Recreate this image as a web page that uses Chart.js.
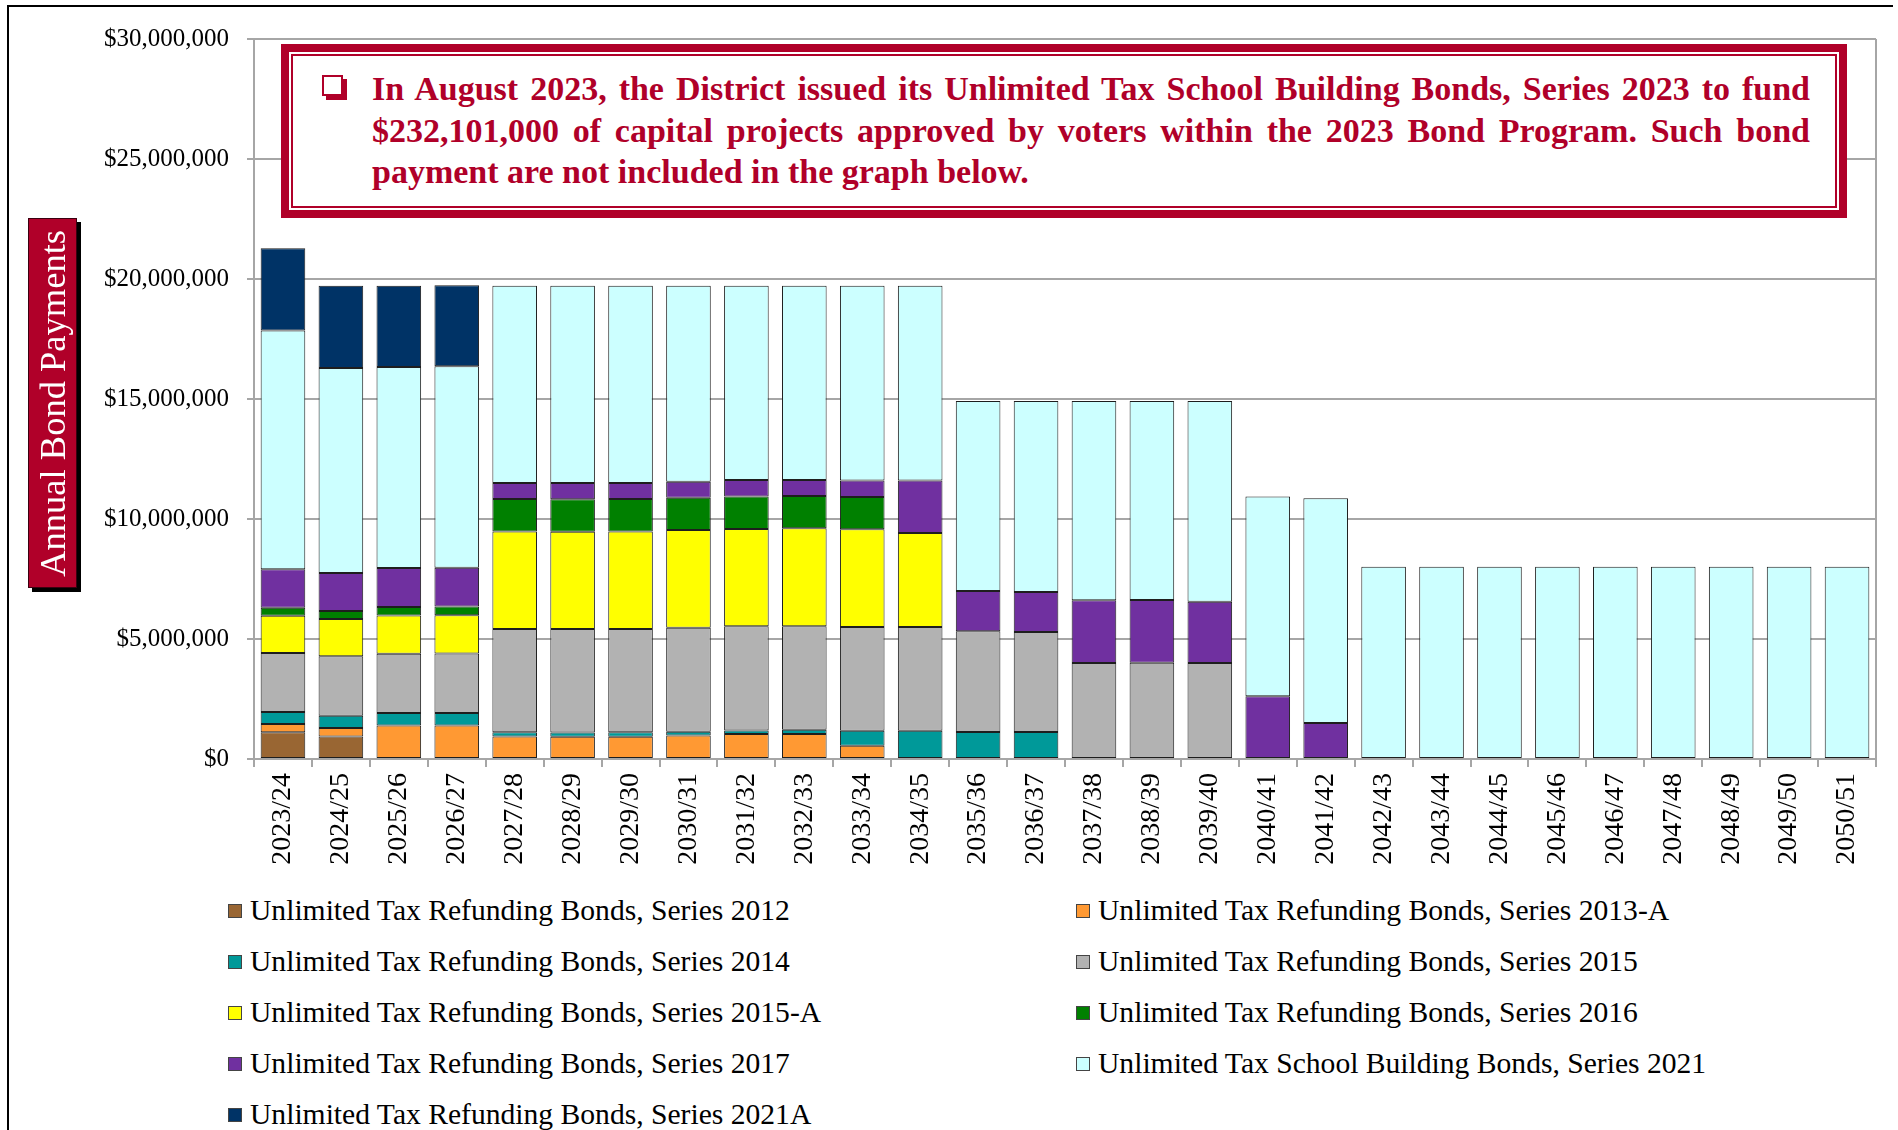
<!DOCTYPE html>
<html lang="en">

<head>
    <meta charset="UTF-8">
    <title>Annual Bond Payments</title>
    <script src="https://cdn.jsdelivr.net/npm/chart.js"></script>
    <style>
        body {
            margin: 0;
            width: 1898px;
            height: 1130px;
            overflow: hidden;
            position: relative;
            background: #fff;
            font-family: 'Liberation Serif', serif;
        }

        .moldura {
            position: absolute;
            left: 7px;
            top: 5px;
            right: 5px;
            bottom: 0;
            border-top: 2px solid #000;
            border-left: 2px solid #000;
        }

        .grafico {
            position: absolute;
            left: 0;
            top: 0;
            width: 1898px;
            height: 880px;
        }

        .titulo_eixo {
            position: absolute;
            left: 28px;
            top: 218px;
            width: 49px;
            height: 370px;
            box-sizing: border-box;
            background: #B00029;
            border: 1px solid #3a0010;
            box-shadow: 4px 4px 0 #000;
            display: flex;
            align-items: center;
            justify-content: center;
        }

        .titulo_eixo span {
            writing-mode: vertical-rl;
            transform: rotate(180deg);
            color: #fff;
            font-size: 36.5px;
            white-space: nowrap;
        }

        .aviso {
            position: absolute;
            left: 281px;
            top: 44px;
            width: 1566px;
            height: 174px;
            box-sizing: border-box;
            border: 8px solid #B00029;
            padding: 2px;
            background: #fff;
        }

        .aviso_interno {
            box-sizing: border-box;
            height: 100%;
            border: 2px solid #B00029;
        }

        .check {
            position: absolute;
            left: 322px;
            top: 75px;
            width: 21px;
            height: 21px;
            box-sizing: border-box;
            border: 2px solid #B00029;
            box-shadow: 4px 4px 0 #B00029;
            background: #fff;
        }

        .aviso_texto {
            position: absolute;
            left: 372px;
            top: 68px;
            width: 1438px;
            color: #B00029;
            font-weight: bold;
            font-size: 34px;
            line-height: 41.5px;
        }

        .aviso_texto .linha {
            text-align: justify;
            text-align-last: justify;
        }

        .aviso_texto .ultima {
            text-align: left;
        }

        .legenda {
            position: absolute;
            left: 228px;
            top: 885px;
            display: grid;
            grid-template-columns: 848px 700px;
            font-size: 29.6px;
            line-height: 51px;
            color: #000;
        }

        .item {
            display: flex;
            align-items: center;
            white-space: nowrap;
        }

        .marca {
            width: 14px;
            height: 14px;
            box-sizing: border-box;
            border: 1px solid #444;
            margin-right: 8px;
        }
    </style>
</head>

<body>
    <div class="moldura"></div>

    <div class="grafico">
        <canvas id="grafico_barra"></canvas>
    </div>

    <div class="titulo_eixo"><span>Annual Bond Payments</span></div>

    <div class="aviso">
        <div class="aviso_interno"></div>
    </div>
    <span class="check"></span>
    <div class="aviso_texto">
        <div class="linha">In August 2023, the District issued its Unlimited Tax School Building Bonds, Series 2023 to fund</div>
        <div class="linha">$232,101,000 of capital projects approved by voters within the 2023 Bond Program. Such bond</div>
        <div class="ultima">payment are not included in the graph below.</div>
    </div>

    <div class="legenda" id="legenda"></div>

    <script>
        // fiscal years
        const anos = ['2023/24', '2024/25', '2025/26', '2026/27', '2027/28', '2028/29', '2029/30',
            '2030/31', '2031/32', '2032/33', '2033/34', '2034/35', '2035/36', '2036/37', '2037/38',
            '2038/39', '2039/40', '2040/41', '2041/42', '2042/43', '2043/44', '2044/45', '2045/46',
            '2046/47', '2047/48', '2048/49', '2049/50', '2050/51'];

        // y axis ticks
        const eixoMin = 0;
        const eixoMax = 30000000;
        const eixoPasso = 5000000;

        // payments per bond series (null = no payment)
        const serie2012 = [1110000, 940000, null, null, null, null, null, null, null, null, null, null, null, null,
            null, null, null, null, null, null, null, null, null, null, null, null, null, null];
        const serie2013A = [350000, 350000, 1400000, 1400000, 940000, 930000, 930000, 980000, 1040000, 1040000, 550000,
            null, null, null, null, null, null, null, null, null, null, null, null, null, null, null, null, null];
        const serie2014 = [500000, 510000, 520000, 520000, 170000, 170000, 180000, 160000, 150000, 180000, 630000,
            1180000, 1120000, 1120000, null, null, null, null, null, null, null, null, null, null, null, null, null, null];
        const serie2015 = [2460000, 2480000, 2470000, 2480000, 4310000, 4320000, 4310000, 4330000, 4340000, 4310000,
            4320000, 4320000, 4200000, 4170000, 4000000, 4010000, 4000000, 40000, null, null, null, null, null, null,
            null, null, null, null];
        const serie2015A = [1550000, 1550000, 1590000, 1590000, 4060000, 4050000, 4060000, 4070000, 4050000, 4080000,
            4070000, 3920000, null, null, null, null, null, null, null, null, null, null, null, null, null, null, null, null];
        const serie2016 = [330000, 340000, 350000, 360000, 1350000, 1350000, 1350000, 1350000, 1360000, 1350000, 1350000,
            null, null, null, null, null, null, null, null, null, null, null, null, null, null, null, null, null];
        const serie2017 = [1610000, 1580000, 1630000, 1620000, 670000, 680000, 670000, 660000, 690000, 670000, 680000,
            2180000, 1680000, 1670000, 2610000, 2610000, 2550000, 2570000, 1500000, null, null, null, null, null, null,
            null, null, null];
        const serie2021 = [9940000, 8540000, 8370000, 8390000, 8220000, 8220000, 8220000, 8170000, 8090000, 8090000,
            8120000, 8120000, 7920000, 7960000, 8310000, 8300000, 8370000, 8330000, 9360000, 8010000, 8010000, 8010000,
            8010000, 8010000, 8010000, 8010000, 8010000, 8010000];
        const serie2021A = [3430000, 3430000, 3390000, 3380000, null, null, null, null, null, null, null, null, null,
            null, null, null, null, null, null, null, null, null, null, null, null, null, null, null];

        const nomes = [
            'Unlimited Tax Refunding Bonds, Series 2012',
            'Unlimited Tax Refunding Bonds, Series 2013-A',
            'Unlimited Tax Refunding Bonds, Series 2014',
            'Unlimited Tax Refunding Bonds, Series 2015',
            'Unlimited Tax Refunding Bonds, Series 2015-A',
            'Unlimited Tax Refunding Bonds, Series 2016',
            'Unlimited Tax Refunding Bonds, Series 2017',
            'Unlimited Tax School Building Bonds, Series 2021',
            'Unlimited Tax Refunding Bonds, Series 2021A'
        ];
        const cores = ['#996633', '#FF9933', '#009999', '#B2B2B2', '#FFFF00', '#008000', '#7030A0', '#CCFFFF', '#003366'];
        const series = [serie2012, serie2013A, serie2014, serie2015, serie2015A, serie2016, serie2017, serie2021, serie2021A];

        const fonte = 'Liberation Serif';

        var datasets = series.map(function (valores, i) {
            return {
                label: nomes[i],
                data: valores,
                backgroundColor: cores[i],
                borderColor: '#1e1e1e',
                borderWidth: 1,
                borderSkipped: false,
                barPercentage: 1,
                categoryPercentage: 0.77
            };
        });

        // gray frame line on the right side of the plot
        const bordaDireita = {
            id: 'bordaDireita',
            beforeDatasetsDraw(chart) {
                const a = chart.chartArea;
                const ctx = chart.ctx;
                ctx.save();
                ctx.strokeStyle = '#a6a6a6';
                ctx.lineWidth = 2;
                ctx.beginPath();
                ctx.moveTo(a.right, a.top);
                ctx.lineTo(a.right, a.bottom);
                ctx.stroke();
                ctx.restore();
            }
        };

        var ctx = document.getElementById('grafico_barra').getContext('2d');

        window.grafico_barra = new Chart(ctx, {
            type: 'bar',
            data: { labels: anos, datasets: datasets },
            plugins: [bordaDireita],
            options: {
                responsive: true,
                maintainAspectRatio: false,
                animation: false,
                layout: { padding: { top: 39, right: 22, left: 0, bottom: 0 } },
                plugins: {
                    legend: { display: false },
                    tooltip: { enabled: false }
                },
                scales: {
                    x: {
                        stacked: true,
                        grid: { drawOnChartArea: false, color: '#a6a6a6', lineWidth: 2, tickLength: 8 },
                        border: { color: '#a6a6a6', width: 2 },
                        ticks: {
                            color: '#000',
                            font: { family: fonte, size: 28 },
                            minRotation: 90,
                            maxRotation: 90,
                            autoSkip: false,
                            padding: 6
                        },
                        afterFit: function (s) { s.height = 121; }
                    },
                    y: {
                        stacked: true,
                        min: eixoMin,
                        max: eixoMax,
                        grid: { color: '#a6a6a6', lineWidth: 2, tickLength: 7 },
                        border: { color: '#a6a6a6', width: 2 },
                        ticks: {
                            stepSize: eixoPasso,
                            color: '#000',
                            font: { family: fonte, size: 25 },
                            padding: 18,
                            callback: function (v) { return '$' + v.toLocaleString('en-US'); }
                        },
                        afterFit: function (s) { s.width = 254; }
                    }
                }
            }
        });

        // legend in two columns
        var legenda = document.getElementById('legenda');
        datasets.forEach(function (d) {
            var item = document.createElement('div');
            item.className = 'item';
            var marca = document.createElement('span');
            marca.className = 'marca';
            marca.style.background = d.backgroundColor;
            item.appendChild(marca);
            item.appendChild(document.createTextNode(d.label));
            legenda.appendChild(item);
        });
    </script>
</body>

</html>
